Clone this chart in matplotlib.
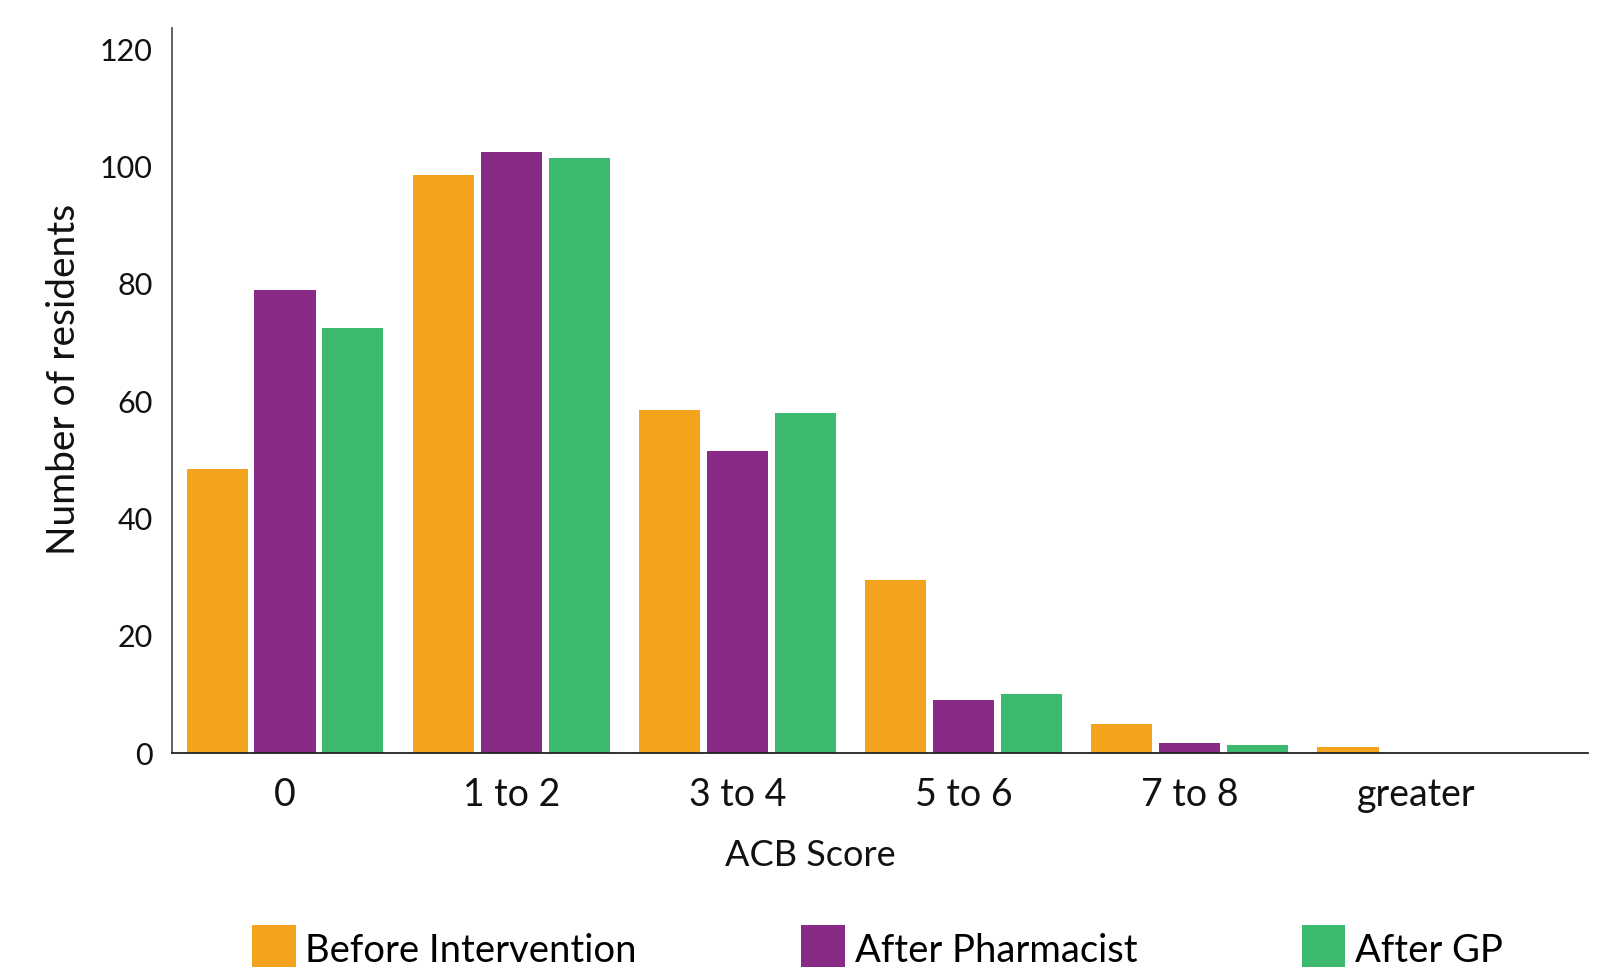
import numpy as np
import matplotlib.pyplot as plt

categories = ['0', '1 to 2', '3 to 4', '5 to 6', '7 to 8', 'greater']
before = [48.5, 98.5, 58.5, 29.5, 5, 1]
after_pharmacist = [79, 102.5, 51.5, 9, 1.7, 0]
after_gp = [72.5, 101.5, 58, 10, 1.3, 0]
series_names = ['Before Intervention', 'After Pharmacist', 'After GP']
colors = ['#F4A41C', '#892A87', '#3AB96F']

plt.rcParams['font.family'] = ['Lato', 'DejaVu Sans']

fig = plt.figure(figsize=(16.07, 9.67), dpi=100)
ax = fig.add_axes([0.107, 0.2213, 0.881, 0.7497])

x = np.arange(len(categories))
w = 0.27
off = 0.30
bars = []
for i, vals in enumerate([before, after_pharmacist, after_gp]):
    b = ax.bar(x + (i - 1) * off, vals, width=w, color=colors[i], label=series_names[i])
    bars.append(b)

ax.set_xlim(-0.50, 5.76)
ax.set_ylim(0, 123.6)
ax.set_yticks([0, 20, 40, 60, 80, 100, 120])
ax.set_xticks(x)
ax.set_xticklabels(categories)
ax.tick_params(axis='y', length=0, pad=14, labelsize=22, labelcolor='#111111')
ax.tick_params(axis='x', length=0, pad=17, labelsize=27, labelcolor='#111111')

for s in ['top', 'right']:
    ax.spines[s].set_visible(False)
ax.spines['left'].set_color('#555555')
ax.spines['left'].set_linewidth(1.3)
ax.spines['bottom'].set_color('#222222')
ax.spines['bottom'].set_linewidth(1.3)

fig.text(0.504, 0.115, 'ACB Score', ha='center', va='center', fontsize=26, color='#111111')
fig.text(0.040, 0.608, 'Number of residents', ha='center', va='center',
         rotation=90, fontsize=28, color='#111111')

fig.legend(handles=bars, labels=series_names, ncol=3, loc='upper left',
           bbox_to_anchor=(252 / 1607, 1 - 925 / 967), frameon=False,
           fontsize=27.5, handlelength=1.15, handleheight=1.6, handletextpad=0.25,
           columnspacing=4.3, borderpad=0, borderaxespad=0)

fig.savefig('out.png', dpi=100)
